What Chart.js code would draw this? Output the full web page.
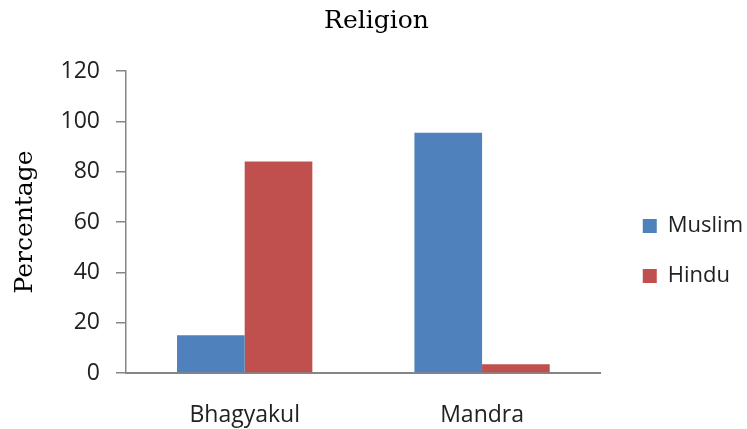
<!DOCTYPE html>
<html>
<head>
<meta charset="utf-8">
<script src="https://cdn.jsdelivr.net/npm/chart.js@4"></script>
<style>
    body { margin: 0; background: #fff; overflow: hidden; }
    .cadre { width: 753px; height: 429px; }
</style>
</head>
<body>
<div class="cadre"><canvas id="myChart"></canvas></div>
<script>
var villages = ["Bhagyakul", "Mandra"];
var muslim = [15, 95.5];
var hindu = [84, 3.5];
var yTicks = [0, 20, 40, 60, 80, 100, 120];

var gris = "#868686";

document.addEventListener("DOMContentLoaded", function () {
    var ctx = document.getElementById("myChart").getContext("2d");
    var myChart = new Chart(ctx, {
        type: "bar",
        data: {
            labels: villages,
            datasets: [
                { label: "Muslim", data: muslim, backgroundColor: "#4F81BD" },
                { label: "Hindu", data: hindu, backgroundColor: "#C0504D" }
            ]
        },
        options: {
            responsive: true,
            maintainAspectRatio: false,
            animation: false,
            layout: { padding: 0 },
            datasets: {
                bar: { categoryPercentage: 0.57, barPercentage: 1 }
            },
            plugins: {
                title: {
                    display: true,
                    text: "Religion",
                    color: "#000",
                    font: { family: "DejaVu Serif", size: 25, weight: "normal" },
                    padding: { top: 6, bottom: 35 }
                },
                legend: {
                    position: "right",
                    maxWidth: 200,
                    // titre vide : sert juste à descendre les items
                    title: {
                        display: true,
                        text: " ",
                        color: "transparent",
                        font: { size: 10 },
                        padding: { top: 61, bottom: 0 }
                    },
                    labels: {
                        boxWidth: 14,
                        boxHeight: 14,
                        padding: 28,
                        color: "#222",
                        font: { family: "Open Sans", size: 22 }
                    }
                },
                tooltip: { enabled: false }
            },
            scales: {
                x: {
                    afterFit: function (axe) { axe.height = 56; },
                    grid: { display: false, drawTicks: false },
                    border: { display: true, color: gris, width: 2 },
                    ticks: {
                        color: "#222",
                        padding: 29,
                        font: { family: "Open Sans", size: 23 }
                    }
                },
                y: {
                    min: 0,
                    max: 120,
                    afterBuildTicks: function (axe) {
                        axe.ticks = yTicks.map(function (v) { return { value: v }; });
                    },
                    afterFit: function (axe) { axe.width = 126; },
                    grid: {
                        drawOnChartArea: false,
                        drawTicks: true,
                        tickLength: 10,
                        color: gris,
                        lineWidth: 1.5
                    },
                    border: { display: true, color: gris, width: 1.5 },
                    ticks: {
                        color: "#222",
                        padding: 16,
                        font: { family: "Open Sans", size: 23 }
                    },
                    title: {
                        display: true,
                        text: "Percentage",
                        color: "#000",
                        font: { family: "DejaVu Serif", size: 25 },
                        padding: { top: 10, bottom: 0 }
                    }
                },
                // espace vide entre le graphique et la légende
                marge: {
                    type: "linear",
                    position: "right",
                    grid: { display: false, drawTicks: false },
                    border: { display: false },
                    ticks: { display: false },
                    afterFit: function (axe) { axe.width = 14; }
                }
            }
        }
    });
});
</script>
</body>
</html>
